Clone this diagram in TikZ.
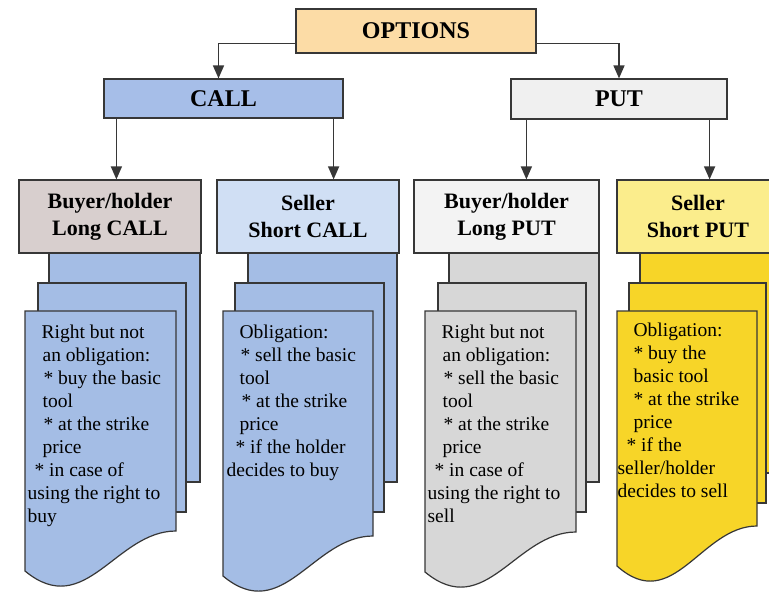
\documentclass[tikz,border=0pt]{standalone}
\usepackage{fontspec}
\setmainfont{Liberation Serif}
\newfontfamily\tnr{Liberation Serif}
\usetikzlibrary{positioning, calc, arrows.meta}
\definecolor{optfill}{RGB}{252,220,166}
\definecolor{callfill}{RGB}{166,190,232}
\definecolor{putfill}{RGB}{240,240,240}
\definecolor{longcall}{RGB}{216,207,206}
\definecolor{shortcall}{RGB}{208,223,244}
\definecolor{longput}{RGB}{243,243,243}
\definecolor{shortputhd}{RGB}{251,237,140}
\definecolor{bluepage}{RGB}{164,189,229}
\definecolor{graypage}{RGB}{215,215,215}
\definecolor{yellowpage}{RGB}{247,213,40}
\definecolor{edge}{RGB}{55,55,55}

\begin{document}
\begin{tikzpicture}[x=1pt, y=-1pt, >={Triangle[length=13pt,width=11pt]}, line width=1.2pt,
    topbox/.style={draw=edge, font=\tnr\fontsize{24}{28}\selectfont\bfseries, inner sep=0pt},
    hdr/.style={draw=edge, font=\tnr\fontsize{22}{27}\selectfont\bfseries, align=center, inner sep=0pt, minimum height=73},
    page/.style={draw=edge},
    link/.style={->, draw=edge, line width=1.5pt},
    body/.style={font=\tnr\fontsize{19.5}{23}\selectfont, align=left, inner sep=0pt, anchor=north west}]
    \clip (0,0) rectangle (769,594);
    \fill[white] (0,0) rectangle (769,594);

    % Stacked pages below each header
    \foreach \bl/\br/\bb/\ml/\mr/\mb/\fl/\fr/\fb/\clr in {
        49/200/482/38/186/512/25/176/571/bluepage,
        248/397/482/235/384/512/223/373/576/bluepage,
        449/599/482/438/586/512/425/576/572/graypage,
        640/779/473/629/766/503/617/757/566/yellowpage}{
      \draw[page, fill=\clr] (\bl,253) rectangle (\br,\bb);
      \draw[page, fill=\clr] (\ml,283) rectangle (\mr,\mb);
      \draw[page, fill=\clr] (\fl,311) -- (\fr,311) -- (\fr,{\fb-40})
        .. controls ({0.4*\fl+0.6*\fr},{\fb-40}) and ({0.6*\fl+0.4*\fr},{\fb+50}) .. (\fl,\fb) -- cycle;
    }

    % Top level
    \node[topbox, fill=optfill, minimum width=240, minimum height=44] (opt) at (416,31) {OPTIONS};
    \node[topbox, fill=callfill, minimum width=239, minimum height=39] (call) at (223.5,98.5) {CALL};
    \node[topbox, fill=putfill, minimum width=216, minimum height=40] (put) at (619,99) {PUT};

    % Headers
    \node[hdr, fill=longcall, minimum width=182] (h1) at (110,216.5) {Buyer/holder\\Long CALL};
    \node[hdr, fill=shortcall, minimum width=182] (h2) at (308,216.5) {Seller\\Short CALL};
    \node[hdr, fill=longput, minimum width=185] (h3) at (506.5,216.5) {Buyer/holder\\Long PUT};
    \node[hdr, fill=shortputhd, minimum width=162] (h4) at (698,216.5) {Seller\\Short PUT};

    \draw[link] ([yshift=10pt]opt.south west) -| ([xshift=-5pt]call.north);
    \draw[link] ([yshift=10pt]opt.south east) -| (put.north);
    \draw[link] ([xshift=13pt]call.south west) -- ([xshift=13pt]call.south west |- h1.north);
    \draw[link] ([xshift=-10pt]call.south east) -- ([xshift=-10pt]call.south east |- h2.north);
    \draw[link] ([xshift=16pt]put.south west) -- ([xshift=16pt]put.south west |- h3.north);
    \draw[link] ([xshift=-18pt]put.south east) -- ([xshift=-18pt]put.south east |- h4.north);

    % Page texts
    \node[body] (t1) at (25,324) {\hspace*{16pt}Right but not\\\hspace*{17pt}an obligation:\\\hspace*{18pt}* buy the basic\\\hspace*{17pt}tool\\\hspace*{18pt}* at the strike\\\hspace*{17pt}price\\\hspace*{9pt}* in case of\\\hspace*{2pt}using the right to\\\hspace*{2pt}buy};
    \node[body] (t2) at (223,324) {\hspace*{16pt}Obligation:\\\hspace*{17pt}* sell the basic\\\hspace*{16pt}tool\\\hspace*{18pt}* at the strike\\\hspace*{16pt}price\\\hspace*{12pt}* if the holder\\\hspace*{3pt}decides to buy};
    \node[body] (t3) at (425,324) {\hspace*{16pt}Right but not\\\hspace*{17pt}an obligation:\\\hspace*{18pt}* sell the basic\\\hspace*{17pt}tool\\\hspace*{18pt}* at the strike\\\hspace*{17pt}price\\\hspace*{9pt}* in case of\\\hspace*{2pt}using the right to\\\hspace*{2pt}sell};
    \node[body] (t4) at (617,322) {\hspace*{16pt}Obligation:\\\hspace*{16pt}* buy the\\\hspace*{16pt}basic tool\\\hspace*{16pt}* at the strike\\\hspace*{16pt}price\\\hspace*{9pt}* if the\\seller/holder\\decides to sell};
\end{tikzpicture}
\end{document}
